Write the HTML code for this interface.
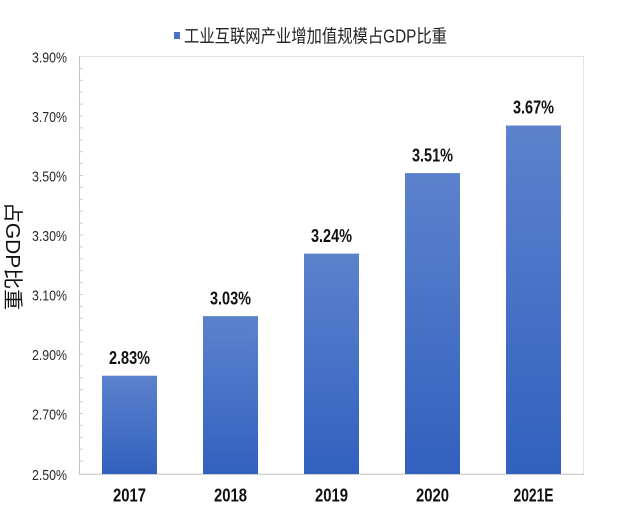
<!DOCTYPE html>
<html><head><meta charset="utf-8"><style>
html,body{margin:0;padding:0;background:#fff;}
svg{display:block;}
</style></head><body>
<svg width="617" height="518" viewBox="0 0 617 518" xmlns="http://www.w3.org/2000/svg">
<defs>
<linearGradient id="g" x1="0" y1="0" x2="0" y2="1">
<stop offset="0" stop-color="#5c82cd"/>
<stop offset="1" stop-color="#3161be"/>
</linearGradient>
</defs>
<rect width="617" height="518" fill="#fff"/>
<rect x="79.5" y="56.5" width="504" height="417.5" fill="none" stroke="#e2e2e2" stroke-width="1"/>
<line x1="79.5" y1="56" x2="79.5" y2="474" stroke="#c4c4c4" stroke-width="1"/>
<line x1="79" y1="474.5" x2="584" y2="474.5" stroke="#cfcfcf" stroke-width="1"/>
<g stroke="#cfcfcf" stroke-width="1">
<line x1="79" y1="68.4" x2="83" y2="68.4"/><line x1="79" y1="80.3" x2="83" y2="80.3"/><line x1="79" y1="92.2" x2="83" y2="92.2"/><line x1="79" y1="104.1" x2="83" y2="104.1"/><line x1="79" y1="116" x2="83" y2="116"/>
<line x1="79" y1="127.9" x2="83" y2="127.9"/><line x1="79" y1="139.8" x2="83" y2="139.8"/><line x1="79" y1="151.7" x2="83" y2="151.7"/><line x1="79" y1="163.6" x2="83" y2="163.6"/><line x1="79" y1="175.5" x2="83" y2="175.5"/>
<line x1="79" y1="187.4" x2="83" y2="187.4"/><line x1="79" y1="199.3" x2="83" y2="199.3"/><line x1="79" y1="211.2" x2="83" y2="211.2"/><line x1="79" y1="223.1" x2="83" y2="223.1"/><line x1="79" y1="235" x2="83" y2="235"/>
<line x1="79" y1="246.9" x2="83" y2="246.9"/><line x1="79" y1="258.8" x2="83" y2="258.8"/><line x1="79" y1="270.7" x2="83" y2="270.7"/><line x1="79" y1="282.6" x2="83" y2="282.6"/><line x1="79" y1="294.5" x2="83" y2="294.5"/>
<line x1="79" y1="306.4" x2="83" y2="306.4"/><line x1="79" y1="318.3" x2="83" y2="318.3"/><line x1="79" y1="330.2" x2="83" y2="330.2"/><line x1="79" y1="342.1" x2="83" y2="342.1"/><line x1="79" y1="354" x2="83" y2="354"/>
<line x1="79" y1="365.9" x2="83" y2="365.9"/><line x1="79" y1="377.8" x2="83" y2="377.8"/><line x1="79" y1="389.7" x2="83" y2="389.7"/><line x1="79" y1="401.6" x2="83" y2="401.6"/><line x1="79" y1="413.5" x2="83" y2="413.5"/>
<line x1="79" y1="425.4" x2="83" y2="425.4"/><line x1="79" y1="437.3" x2="83" y2="437.3"/><line x1="79" y1="449.2" x2="83" y2="449.2"/><line x1="79" y1="461.1" x2="83" y2="461.1"/>
</g>
<g font-family="'Liberation Sans Narrow','Liberation Sans',sans-serif" font-size="15" fill="#2a2a2a" text-anchor="end">
<text x="67" y="62.5" textLength="35" lengthAdjust="spacingAndGlyphs">3.90%</text>
<text x="67" y="122" textLength="35" lengthAdjust="spacingAndGlyphs">3.70%</text>
<text x="67" y="181.5" textLength="35" lengthAdjust="spacingAndGlyphs">3.50%</text>
<text x="67" y="241" textLength="35" lengthAdjust="spacingAndGlyphs">3.30%</text>
<text x="67" y="300.5" textLength="35" lengthAdjust="spacingAndGlyphs">3.10%</text>
<text x="67" y="360" textLength="35" lengthAdjust="spacingAndGlyphs">2.90%</text>
<text x="67" y="419.5" textLength="35" lengthAdjust="spacingAndGlyphs">2.70%</text>
<text x="67" y="480" textLength="35" lengthAdjust="spacingAndGlyphs">2.50%</text>
</g>
<rect x="102" y="375.7" width="55" height="98.3" fill="url(#g)"/>
<rect x="203" y="316.1" width="55" height="157.9" fill="url(#g)"/>
<rect x="304" y="253.6" width="55" height="220.4" fill="url(#g)"/>
<rect x="405" y="173.1" width="55" height="300.9" fill="url(#g)"/>
<rect x="506" y="125.5" width="55" height="348.5" fill="url(#g)"/>
<g font-family="'Liberation Sans Narrow','Liberation Sans',sans-serif" font-size="18" font-weight="bold" fill="#111" text-anchor="middle">
<text x="129.5" y="364" textLength="41" lengthAdjust="spacingAndGlyphs">2.83%</text>
<text x="230.5" y="304.5" textLength="41" lengthAdjust="spacingAndGlyphs">3.03%</text>
<text x="331.5" y="242" textLength="41" lengthAdjust="spacingAndGlyphs">3.24%</text>
<text x="432.5" y="161.5" textLength="41" lengthAdjust="spacingAndGlyphs">3.51%</text>
<text x="533.5" y="113.5" textLength="41" lengthAdjust="spacingAndGlyphs">3.67%</text>
</g>
<g font-family="'Liberation Sans Narrow','Liberation Sans',sans-serif" font-size="18" font-weight="bold" fill="#111" text-anchor="middle">
<text x="129.5" y="501.5" textLength="33" lengthAdjust="spacingAndGlyphs">2017</text>
<text x="230.5" y="501.5" textLength="33" lengthAdjust="spacingAndGlyphs">2018</text>
<text x="331.5" y="501.5" textLength="33" lengthAdjust="spacingAndGlyphs">2019</text>
<text x="432.5" y="501.5" textLength="33" lengthAdjust="spacingAndGlyphs">2020</text>
<text x="533.5" y="501.5" textLength="40" lengthAdjust="spacingAndGlyphs">2021E</text>
</g>
<text transform="translate(6,256) rotate(90)" font-family="'Liberation Sans','Noto Sans CJK SC',sans-serif" font-size="20" fill="#111" text-anchor="middle" textLength="108" lengthAdjust="spacingAndGlyphs">占GDP比重</text>
<rect x="174" y="32" width="6" height="7" fill="#4a72c4"/>
<text x="184" y="42.5" font-family="'Liberation Sans','Noto Sans CJK SC',sans-serif" font-size="18" fill="#222" textLength="263" lengthAdjust="spacingAndGlyphs">工业互联网产业增加值规模占GDP比重</text>
</svg>
</body></html>
